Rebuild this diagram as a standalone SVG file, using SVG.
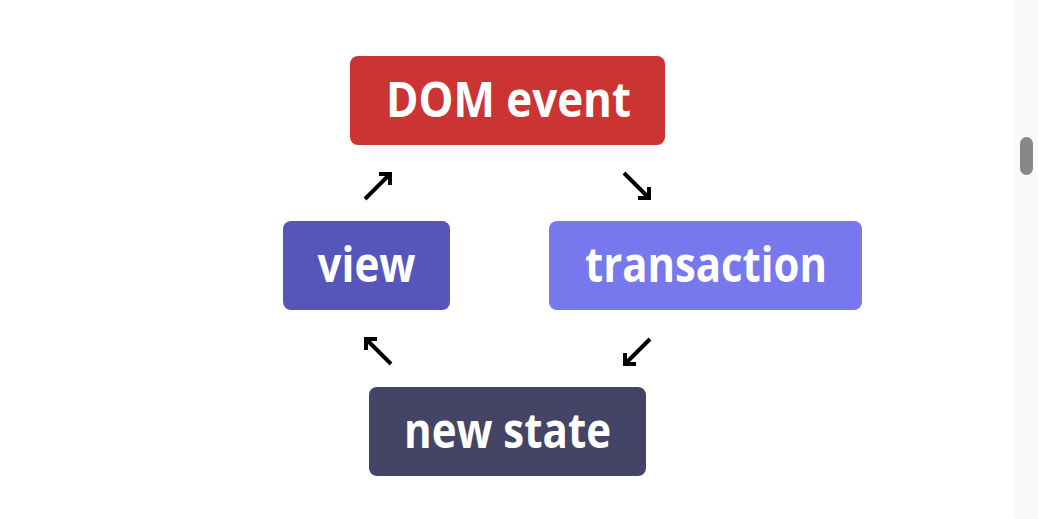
<svg xmlns="http://www.w3.org/2000/svg" width="1038" height="519" viewBox="0 0 1038 519">
<style>
.box{stroke:none}
.lbl{font-family:"Open Sans","Noto Sans","DejaVu Sans",sans-serif;font-weight:bold;font-size:48px;fill:#ffffff;text-anchor:middle}
.arr{fill:none;stroke:#000000;stroke-width:4;stroke-linecap:butt;stroke-linejoin:miter}
</style>
<rect width="1038" height="519" fill="#ffffff"/>
<g id="scrollbar">
<rect x="1015" y="0" width="23" height="519" fill="#fafafa"/>
<rect x="1020" y="137" width="13" height="38" rx="6.5" fill="#888888"/>
</g>
<g id="node-dom-event">
<rect class="box" x="350" y="56" width="315" height="89" rx="8" fill="#cc3333"/>
<text class="lbl" x="508.5" y="117" textLength="245" lengthAdjust="spacingAndGlyphs">DOM event</text>
</g>
<g id="node-transaction">
<rect class="box" x="549" y="221" width="313" height="89" rx="8" fill="#7777ee"/>
<text class="lbl" x="706" y="282" textLength="242" lengthAdjust="spacingAndGlyphs">transaction</text>
</g>
<g id="node-new-state">
<rect class="box" x="369" y="387" width="277" height="89" rx="8" fill="#444466"/>
<text class="lbl" x="507.5" y="448" textLength="207" lengthAdjust="spacingAndGlyphs">new state</text>
</g>
<g id="node-view">
<rect class="box" x="283" y="221" width="167" height="89" rx="8" fill="#5555bb"/>
<text class="lbl" x="366.5" y="282" textLength="98" lengthAdjust="spacingAndGlyphs">view</text>
</g>
<g id="connectors">
<path class="arr" d="M365,199 L390,174 M379,174 L390,174 L390,185"/>
<path class="arr" d="M624,173 L649,198 M649,187 L649,198 L638,198"/>
<path class="arr" d="M650,339 L625,364 M625,353 L625,364 L636,364"/>
<path class="arr" d="M391,364 L366,339 M366,350 L366,339 L377,339"/>
</g>
</svg>
